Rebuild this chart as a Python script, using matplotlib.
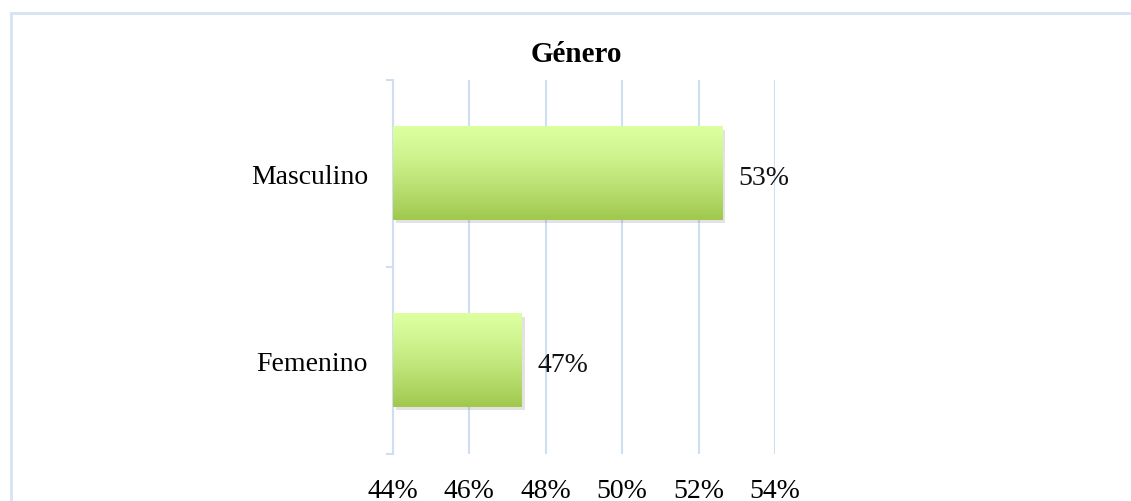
import matplotlib
matplotlib.use("Agg")
import matplotlib.pyplot as plt
import matplotlib.patheffects as pe
from matplotlib.lines import Line2D
import numpy as np

categories = ["Femenino", "Masculino"]
values = [47.37, 52.63]
value_labels = ["47%", "53%"]
xticks = [44, 46, 48, 50, 52, 54]
xtick_labels = ["44%", "46%", "48%", "50%", "52%", "54%"]
title = "Género"

plt.rcParams["font.family"] = ["Liberation Serif", "DejaVu Serif"]

GRID = "#d0def2"
TOP = np.array([220, 255, 160]) / 255
BOTTOM = np.array([160, 200, 78]) / 255

fig = plt.figure(figsize=(11.31, 5.02), dpi=100)
ax = fig.add_axes([393 / 1131, 1 - 455 / 502, (775 - 393) / 1131, (455 - 81) / 502])

xmin = xticks[0]
ypos = np.arange(len(categories))
bars = ax.barh(ypos, [v - xmin for v in values], left=xmin, height=0.5,
               color=BOTTOM, zorder=2,
               path_effects=[pe.SimplePatchShadow(offset=(2, -2), alpha=0.2,
                                                  shadow_rgbFace="#707070"),
                             pe.Normal()])

# vertical gradient fill, light on top
t = np.linspace(0, 1, 256)[:, None]
t = t ** 1.3
grad = TOP[None, :] * (1 - t[..., None]) + BOTTOM[None, :] * t[..., None]
grad = np.repeat(grad, 2, axis=1)
for b in bars:
    x0, y0 = b.get_x(), b.get_y()
    ax.imshow(grad, extent=(x0, x0 + b.get_width(), y0, y0 + b.get_height()),
              origin="upper", aspect="auto", zorder=3, interpolation="bilinear")

for b, lab in zip(bars, value_labels):
    ax.annotate(lab, (b.get_x() + b.get_width(), b.get_y() + b.get_height() / 2),
                xytext=(11, -3), textcoords="offset points", va="center", ha="left",
                fontsize=20, color="#111111")

ax.set_xlim(xticks[0], xticks[-1])
ax.set_ylim(-0.5, len(categories) - 0.5)
ax.set_xticks(xticks)
ax.set_xticklabels(xtick_labels, fontsize=20)
ax.tick_params(axis="x", length=0, pad=17)
ax.set_yticks(ypos)
ax.set_yticklabels(categories, fontsize=20)
ax.tick_params(axis="y", length=0, pad=18)
ax.set_yticks(np.arange(len(categories) + 1) - 0.5, minor=True)
ax.tick_params(axis="y", which="minor", length=5, width=1.5, color=GRID)

ax.grid(axis="x", color=GRID, linewidth=1.5, zorder=0)
ax.set_axisbelow(True)
for s in ["top", "right", "bottom"]:
    ax.spines[s].set_visible(False)
ax.spines["left"].set_color(GRID)
ax.spines["left"].set_linewidth(1.5)

fig.text(576 / 1131, 1 - 55 / 502, title, ha="center", va="center",
         fontsize=21, fontweight="bold")

# outer chart border (top and left edges visible)
fig.add_artist(Line2D([11 / 1131, 1.0], [1 - 14 / 502, 1 - 14 / 502],
                      transform=fig.transFigure, color="#d6e3f3", linewidth=2))
fig.add_artist(Line2D([11 / 1131, 11 / 1131], [0.0, 1 - 14 / 502],
                      transform=fig.transFigure, color="#d6e3f3", linewidth=2))

fig.savefig("out.png", dpi=100)
